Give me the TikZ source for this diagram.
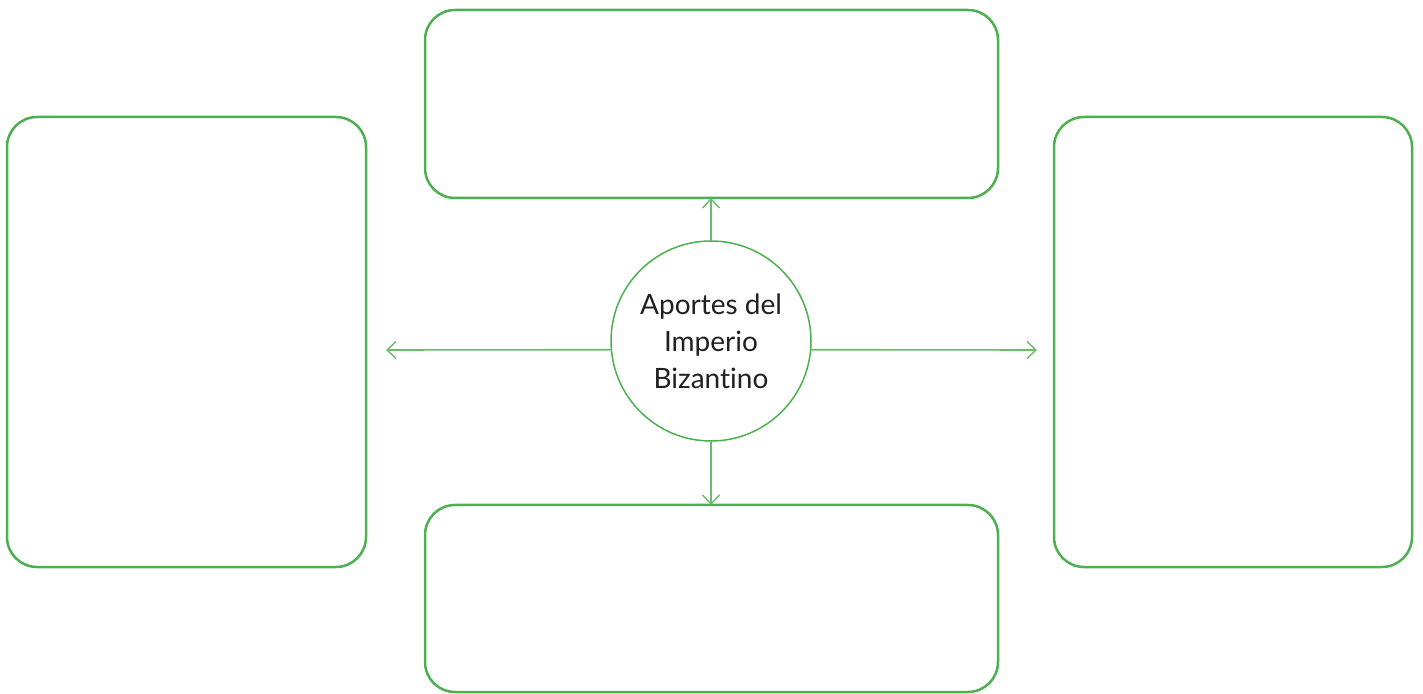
\documentclass[tikz,border=0pt]{standalone}
\usepackage{fontspec}
\setmainfont[Ligatures={NoCommon,NoRare,NoContextual}]{Lato}
\usetikzlibrary{arrows.meta}
\definecolor{boxgreen}{RGB}{76,175,80}
\definecolor{arrowgreen}{RGB}{104,188,108}
\definecolor{textgray}{RGB}{35,31,32}
\tikzset{
    aporte/.style={draw=boxgreen, line width=1.25pt, rounded corners=15pt, inner sep=0pt, outer sep=0pt},
    centro/.style={circle, draw=boxgreen, line width=0.75pt, minimum size=100pt, inner sep=0pt, outer sep=0pt,
        align=center, text=textgray, font=\fontsize{14}{18.5}\selectfont},
    flecha/.style={draw=arrowgreen, line width=0.8pt, -{Straight Barb[length=4.5pt, width=8.5pt, line width=0.7pt]}}
}

\begin{document}
\begin{tikzpicture}[x=0.5pt, y=-0.5pt]
        \useasboundingbox (0,0) rectangle (1423,694);
        \node[aporte, minimum width=286.5pt, minimum height=94pt] (arriba) at (711.5,104) {};
        \node[aporte, minimum width=286.5pt, minimum height=93.5pt] (abajo) at (711.5,598.5) {};
        \node[aporte, minimum width=179.5pt, minimum height=225pt] (izquierda) at (186.5,342) {};
        \node[aporte, minimum width=179pt, minimum height=225pt] (derecha) at (1233,342) {};
        \node[centro] (imperio) at (711,341) {Aportes del\\Imperio\\Bizantino};
        \coordinate (finizq) at (386,350);
        \coordinate (finder) at (1037,350);
        \draw[flecha] (imperio.north) -- (imperio.north |- arriba.south);
        \draw[flecha] (imperio.south) -- (imperio.south |- abajo.north);
        \draw[flecha] (imperio.185.2) -- (finizq);
        \draw[flecha] (imperio.-5.2) -- (finder);
    \end{tikzpicture}
\end{document}
